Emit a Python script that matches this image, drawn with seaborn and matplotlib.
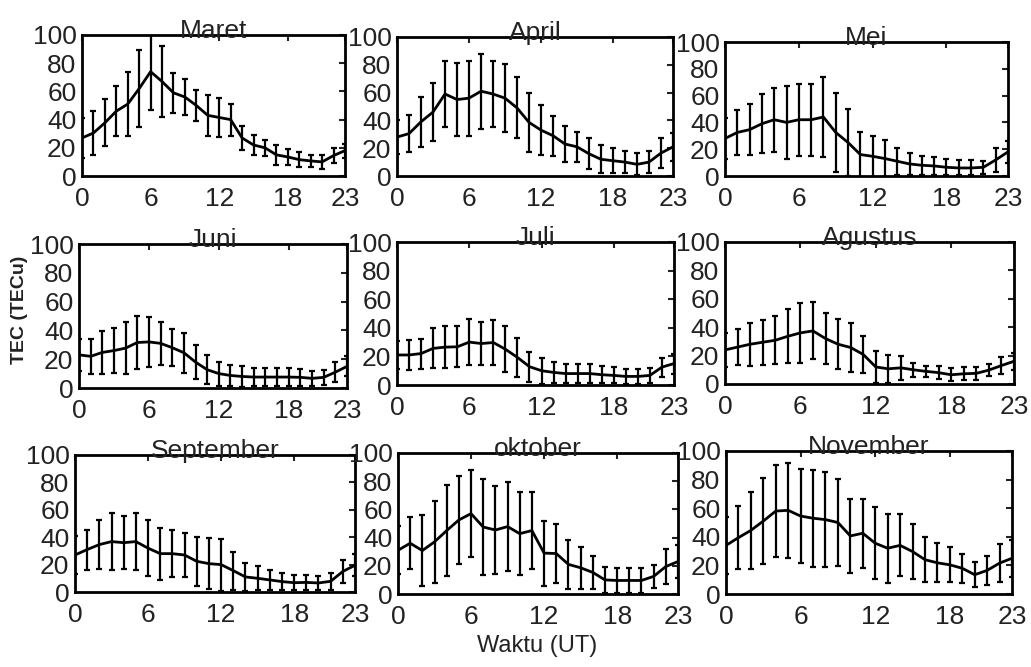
import numpy as np
import pandas as pd
import matplotlib
matplotlib.use("Agg")
import matplotlib.pyplot as plt
import seaborn as sns

hours = list(range(24))
months = ["Maret", "April", "Mei", "Juni", "Juli", "Agustus", "September", "oktober", "November"]

maret_mean = [27, 30.5, 37.7, 46, 51, 62, 74, 67, 59, 56, 50, 43, 41.5, 40, 27, 22, 20, 15, 13.5, 11.6, 10.7, 10, 14.5, 18]
maret_std = [14, 15.8, 16.6, 17.8, 22.9, 27.5, 27, 24.9, 14.2, 12.7, 10.9, 14.6, 13.6, 11.4, 8.3, 7.1, 5.6, 7.1, 5.9, 5.3, 4.1, 4.7, 5.6, 5]

april_mean = [28, 30.5, 39, 46, 59, 55, 56, 61, 59, 56, 49, 38.6, 33, 29, 23, 21, 16, 12, 11, 10, 8.4, 10, 16.5, 21]
april_std = [12, 13.2, 18, 21, 24, 26, 27, 27, 24, 24.6, 22, 21, 18, 14.4, 13, 11, 11, 10, 9, 8, 8, 8, 11, 10]

mei_mean = [28, 32.5, 34.6, 39, 42, 40, 42, 42, 44, 32.5, 25, 16, 14.7, 13, 11, 9, 8, 7.5, 6.5, 6, 6, 6.5, 12, 18]
mei_std = [15, 17, 19, 22, 24, 27, 27, 27, 30, 29.5, 25, 17, 15.5, 14, 10, 8, 7, 7, 6, 5.6, 5.6, 5, 8.7, 8]

juni_mean = [23, 22, 24.7, 26, 27.7, 31.6, 32, 31, 28, 24.5, 18, 12.7, 10, 8.7, 8, 7.6, 7.6, 7.6, 7.6, 7.4, 6.7, 7.4, 11, 15]
juni_std = [11, 12, 14.7, 15.6, 17.8, 18.5, 17.3, 15, 13, 14, 12, 10, 8.4, 7.5, 7, 6.3, 6.3, 6.3, 6.3, 5.8, 5, 5, 7, 7]

juli_mean = [21, 21, 22, 25.6, 26.5, 26.7, 30, 29, 29.7, 25, 19.3, 12.8, 10, 8.8, 8, 8, 8, 7.2, 6.7, 6, 6, 6.7, 12.5, 15]
juli_std = [10, 10.7, 10.5, 14, 14.8, 14.4, 16, 15, 15.7, 16, 13.4, 10.5, 9, 7.6, 6.7, 6.7, 6.7, 6, 5.6, 5, 5, 5, 6.7, 7]

agustus_mean = [24, 26, 28, 29.4, 30.8, 33.6, 36, 37.4, 32, 28, 25.7, 20.8, 12, 10.7, 11.4, 10, 8.9, 8, 6.5, 7.2, 7.5, 9.8, 13, 16]
agustus_std = [12, 12.5, 15, 16, 17, 19, 21, 20, 18, 17.5, 17.5, 13, 11, 10, 8.4, 5, 4, 4.7, 4.7, 4.5, 4.5, 4, 6, 6]

september_mean = [27, 31, 34.6, 36.8, 36, 36.8, 32, 28, 28, 27, 22.4, 20.7, 20, 15.6, 11, 10, 8.8, 7.6, 6.8, 7, 6.6, 7.8, 15, 19.5]
september_std = [14, 14.6, 18, 20.5, 19.5, 20.5, 20.5, 19, 17, 16, 18, 18.5, 19, 13.8, 10, 8.8, 7.5, 6.3, 5.5, 5.2, 4.9, 6, 8.5, 8]

oktober_mean = [31, 36, 30.8, 37, 45, 52.5, 57, 47.5, 45.4, 47.8, 42.8, 45, 29, 28.7, 21, 18.6, 15.3, 10, 9.6, 9.6, 9.6, 12.5, 19.5, 23]
oktober_std = [17, 18.6, 25, 29, 32, 31, 30.6, 34, 31, 31.8, 29.6, 27, 23, 21, 17.4, 15, 11.8, 9.4, 8.8, 8.8, 8.8, 8.2, 12.7, 12]

november_mean = [34, 39.4, 44.5, 51, 58, 58.5, 54.5, 53, 52, 50, 40.6, 42.5, 35.5, 32, 34, 29.7, 24, 21.8, 20.4, 18, 13.5, 16.5, 21.6, 25]
november_std = [20, 22, 27, 29.8, 32, 33, 33, 34, 33, 30.5, 26, 24, 25, 24, 21.6, 19, 15.8, 13.7, 12.3, 10, 8.6, 9.9, 13.5, 13]

means = [maret_mean, april_mean, mei_mean, juni_mean, juli_mean, agustus_mean,
         september_mean, oktober_mean, november_mean]
stds = [maret_std, april_std, mei_std, juni_std, juli_std, agustus_std,
        september_std, oktober_std, november_std]

xticks = [0, 6, 12, 18, 23]
yticks = [0, 20, 40, 60, 80, 100]

sns.set_theme(style="white")
plt.rcParams['font.family'] = ["Liberation Sans", "DejaVu Sans"]

W, H = 1031, 667
fig = plt.figure(figsize=(W / 100, H / 100), dpi=100)

# axes boxes in pixel coordinates: left, top, right, bottom
boxes = [(82, 35, 345, 176), (397, 37, 673, 176), (725, 42, 1008, 176),
         (79, 244, 347, 388), (397, 242, 674, 385), (725, 242, 1014, 384),
         (75, 455, 355, 592), (398, 453, 678, 594), (726, 451, 1012, 594)]

for i, (name, m, s) in enumerate(zip(months, means, stds)):
    l, t, r, b = boxes[i]
    ax = fig.add_axes([l / W, 1 - b / H, (r - l) / W, (b - t) / H])
    df = pd.DataFrame({"hour": hours, "TEC": m, "std": s})
    ax.errorbar(df["hour"], df["TEC"], yerr=df["std"], fmt="none", ecolor="black",
                elinewidth=1.6, capsize=2.5, capthick=1.6, zorder=2)
    sns.lineplot(data=df, x="hour", y="TEC", ax=ax, color="black", linewidth=2.0,
                 errorbar=None, zorder=3)
    ax.set_xlim(0, 23)
    ax.set_ylim(0, 100)
    ax.set_xticks(xticks)
    ax.set_yticks(yticks)
    ax.set_xlabel("")
    ax.set_ylabel("")
    ax.tick_params(direction="in", top=True, right=True, length=4, width=1.5,
                   labelsize=19, colors="#222222")
    ax.tick_params(axis="x", pad=8)
    ax.tick_params(axis="y", pad=4)
    for sp in ax.spines.values():
        sp.set_visible(True)
        sp.set_linewidth(2.0)
        sp.set_color("black")
    ax.set_title(name, fontsize=19, pad=-2, color="#222222")

fig.text(20 / W, 1 - 310 / H, "TEC (TECu)", rotation=90, ha="center", va="center",
         fontsize=14, color="#222222", fontweight="bold")
fig.text(537 / W, 1 - 646 / H, "Waktu (UT)", ha="center", va="center",
         fontsize=17, color="#222222")

fig.savefig("out.png", dpi=100)
